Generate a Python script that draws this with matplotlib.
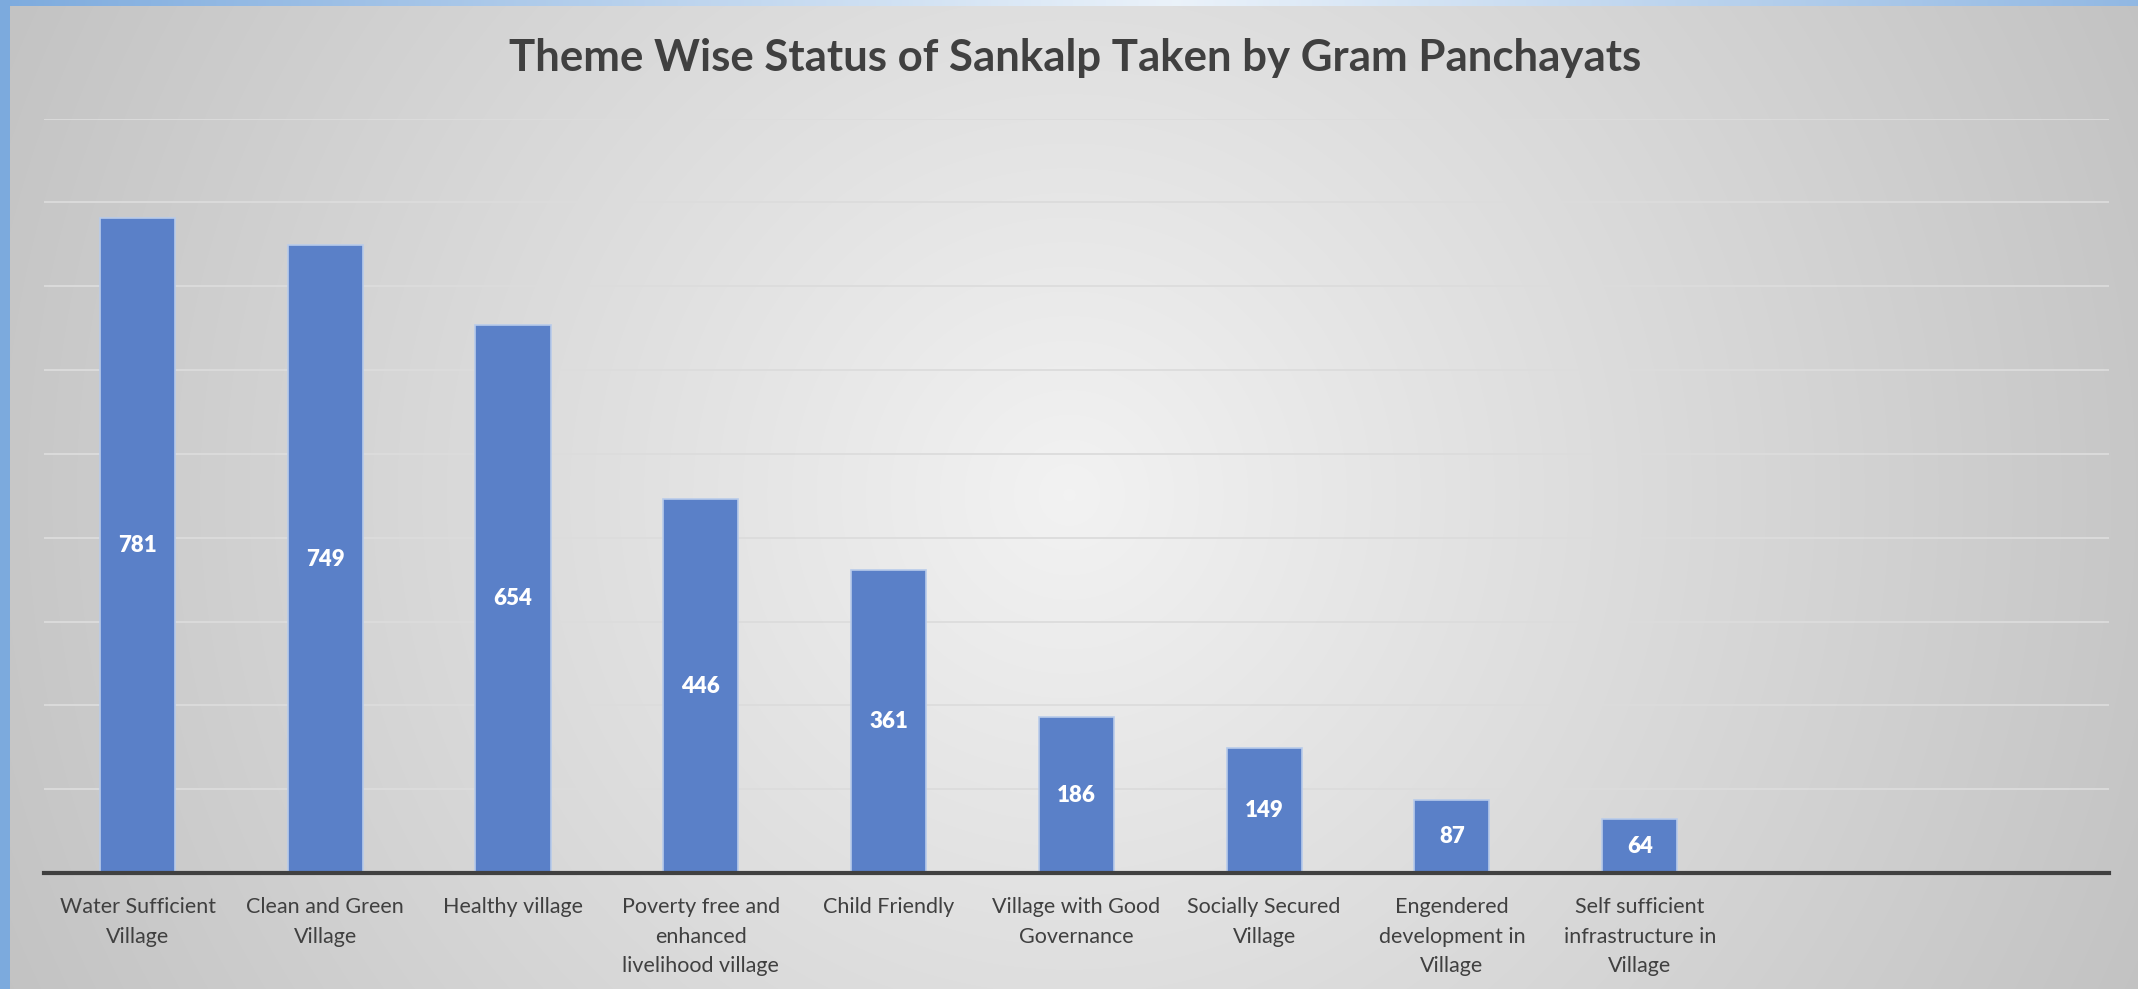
import numpy as np
import matplotlib
matplotlib.use('Agg')
import matplotlib.pyplot as plt

themes = [
    "Water Sufficient\nVillage",
    "Clean and Green\nVillage",
    "Healthy village",
    "Poverty free and\nenhanced\nlivelihood village",
    "Child Friendly",
    "Village with Good\nGovernance",
    "Socially Secured\nVillage",
    "Engendered\ndevelopment in\nVillage",
    "Self sufficient\ninfrastructure in\nVillage",
]
sankalp_counts = [781, 749, 654, 446, 361, 186, 149, 87, 64]

plt.rcParams['font.family'] = ['Lato', 'DejaVu Sans']

W, H = 2138, 989
fig = plt.figure(figsize=(W / 100, H / 100), dpi=100)

# background: radial grey gradient + blue frame strip on left/top
bg = fig.add_axes([0, 0, 1, 1])
bg.set_axis_off()
yy, xx = np.mgrid[0:H, 0:W]
r = np.sqrt((xx - W * 0.5) ** 2 + (yy - H * 0.5) ** 2) / (W * 0.5)
g = np.clip(0.95 - 0.17 * r, 0, 1)
img = np.dstack([g, g, g])
blue = np.array([0.49, 0.67, 0.87])
img[:, :10, :] = blue
t = np.abs(xx[:6, :] / W - 0.55) / 0.55
top = (1 - t)[..., None] * np.array([0.92, 0.95, 0.98]) + t[..., None] * blue
img[:6, :, :] = top
img[:6, :10, :] = blue
bg.imshow(img, aspect='auto', extent=[0, 1, 0, 1], origin='upper')
bg.set_xlim(0, 1)
bg.set_ylim(0, 1)

ax = fig.add_axes([0.0204, 0.1173, 0.9661, 0.7627])
ax.patch.set_alpha(0)
x = np.arange(len(sankalp_counts))
bars = ax.bar(x, sankalp_counts, width=0.4, color='#5a80c8',
              edgecolor='#b8cbea', linewidth=1.2, zorder=3)
for b, v in zip(bars, sankalp_counts):
    ax.text(b.get_x() + b.get_width() / 2, v / 2, str(v), ha='center', va='center',
            color='white', fontsize=16, fontweight='heavy', zorder=4)

ax.set_xlim(-0.5, 10.5)
ax.set_ylim(0, 900)
ax.set_yticks(np.arange(100, 901, 100))
ax.yaxis.grid(True, color='#dcdcdc', linewidth=1.3, zorder=0)
ax.tick_params(axis='y', left=False, labelleft=False)
ax.set_xticks(x)
ax.set_xticklabels(themes, fontsize=15.5, color='#404040', linespacing=1.62)
ax.tick_params(axis='x', length=0, pad=17)
for s in ['top', 'right', 'left']:
    ax.spines[s].set_visible(False)
ax.spines['bottom'].set_color('#404040')
ax.spines['bottom'].set_linewidth(3)
ax.spines['bottom'].set_zorder(5)

fig.text(0.503, 0.941, "Theme Wise Status of Sankalp Taken by Gram Panchayats",
         ha='center', va='center', fontsize=31.5, fontweight='bold', color='#404040')

fig.savefig('out.png', dpi=100)
